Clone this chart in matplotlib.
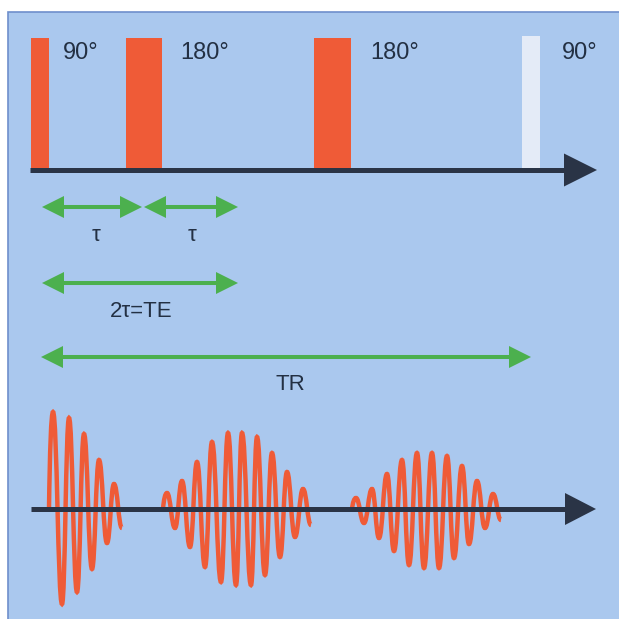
"""Spin echo pulse sequence diagram: RF pulses, timing intervals and signals"""
import matplotlib
matplotlib.use('Agg')
import matplotlib.pyplot as plt
from matplotlib.patches import Rectangle, Polygon, PathPatch
from matplotlib.path import Path

plt.rcParams['font.family'] = ['Liberation Sans', 'DejaVu Sans']

# RF pulses on the upper time line
pulse_labels = ['90°', '180°', '180°', '90°']
pulse_start = [31, 126, 314, 522]
pulse_width = [18, 36, 37, 18]
pulse_top = [38, 38, 38, 36]
pulse_colors = ['#ef5b37', '#ef5b37', '#ef5b37', '#e4ebf7']
pulse_label_x = [63, 180, 370, 562]

# timing intervals (green double arrows)
interval_start = [42, 144, 42, 41]
interval_end = [142, 238, 238, 531]
interval_row = [207, 207, 283, 357]
interval_text = ['τ', 'τ', '2τ=TE', 'TR']
interval_text_x = [96, 192, 141, 290]
interval_text_y = [241, 241, 317, 390]

# signal extrema (time, amplitude above the lower time line)
fid_t = [49, 53, 62, 69, 77, 84, 92, 99, 107, 114, 122]
fid_amp = [0, 97, -95, 91, -83, 75, -60, 49, -34, 25, -19]
echo1_t = [163, 167, 175, 182, 190, 197, 205, 212, 221, 228, 236,
           242, 251, 257, 265, 272, 280, 287, 295, 303, 311]
echo1_amp = [0, 16, -19, 28, -38, 47, -58, 67, -73, 76, -76,
             76, -76, 72, -66, 56, -48, 37, -28, 20, -16]
echo2_t = [352, 356, 364, 372, 379, 387, 394, 402, 409, 417, 424,
           432, 439, 447, 454, 462, 469, 477, 485, 493, 501]
echo2_amp = [0, 11, -14, 20, -29, 35, -42, 49, -56, 56, -59,
             56, -59, 53, -49, 43, -35, 28, -19, 15, -11]

RF_AXIS = 170
SIG_AXIS = 509
AXIS_COLOR = '#2a3446'
RED = '#ef5b37'
GREEN = '#4cb04e'
TEXT_COLOR = '#233043'


def time_axis(ax, y, x0, x1, head_len=33, head_half=16.5):
    """Draws a dark time line ending in a filled triangle"""
    ax.plot([x0, x1 - head_len + 2], [y, y], color=AXIS_COLOR, lw=3.6,
            solid_capstyle='butt', zorder=5)
    ax.add_patch(Polygon([(x1 - head_len, y - head_half), (x1, y),
                          (x1 - head_len, y + head_half)],
                         closed=True, facecolor=AXIS_COLOR, lw=0, zorder=5))


def double_arrow(ax, x0, x1, y, head_len=22, head_half=11):
    """Draws a green double headed arrow"""
    ax.plot([x0 + head_len - 2, x1 - head_len + 2], [y, y], color=GREEN,
            lw=2.9, solid_capstyle='butt', zorder=4)
    ax.add_patch(Polygon([(x0 + head_len, y - head_half), (x0, y),
                          (x0 + head_len, y + head_half)],
                         closed=True, facecolor=GREEN, lw=0, zorder=4))
    ax.add_patch(Polygon([(x1 - head_len, y - head_half), (x1, y),
                          (x1 - head_len, y + head_half)],
                         closed=True, facecolor=GREEN, lw=0, zorder=4))


def wave(ax, t, amp, base):
    """Draws an oscillating signal through its extrema with bezier curves"""
    verts = [(t[0], base - amp[0])]
    codes = [Path.MOVETO]
    for i in range(1, len(t)):
        x0, y0 = t[i - 1], base - amp[i - 1]
        x1, y1 = t[i], base - amp[i]
        dx = x1 - x0
        if amp[i - 1] == 0:
            c1 = (x0 + 0.2 * dx, y0 + 0.6 * (y1 - y0))
        else:
            c1 = (x0 + 0.45 * dx, y0)
        c2 = (x1 - 0.45 * dx, y1)
        verts += [c1, c2, (x1, y1)]
        codes += [Path.CURVE4] * 3
    ax.add_patch(PathPatch(Path(verts, codes), facecolor='none',
                           edgecolor=RED, lw=3.2, zorder=3))


fig = plt.figure(figsize=(6.19, 6.19), dpi=100)
ax = fig.add_axes([0, 0, 1, 1])
ax.set_xlim(0, 619)
ax.set_ylim(619, 0)
ax.axis('off')

# blue panel
ax.add_patch(Rectangle((8, 12), 640, 640, facecolor='#aac8ee',
                       edgecolor='#6e8fcc', lw=1.2, zorder=0))

# RF pulses
heights = [top - RF_AXIS for top in pulse_top]
ax.bar(pulse_start, heights, width=pulse_width, bottom=RF_AXIS,
       align='edge', color=pulse_colors, zorder=2)
for label, x in zip(pulse_labels, pulse_label_x):
    ax.text(x, 59, label, fontsize=17, color=TEXT_COLOR, ha='left',
            va='baseline')
time_axis(ax, RF_AXIS, 30, 597)

# timing intervals
for x0, x1, y in zip(interval_start, interval_end, interval_row):
    double_arrow(ax, x0, x1, y)
for text, x, y in zip(interval_text, interval_text_x, interval_text_y):
    ax.text(x, y, text, fontsize=16, color=TEXT_COLOR, ha='center',
            va='baseline')

# FID and the two echoes
wave(ax, fid_t, fid_amp, SIG_AXIS)
wave(ax, echo1_t, echo1_amp, SIG_AXIS)
wave(ax, echo2_t, echo2_amp, SIG_AXIS)
time_axis(ax, SIG_AXIS, 31, 596, head_len=31, head_half=16)

fig.savefig('out.png', dpi=100)
